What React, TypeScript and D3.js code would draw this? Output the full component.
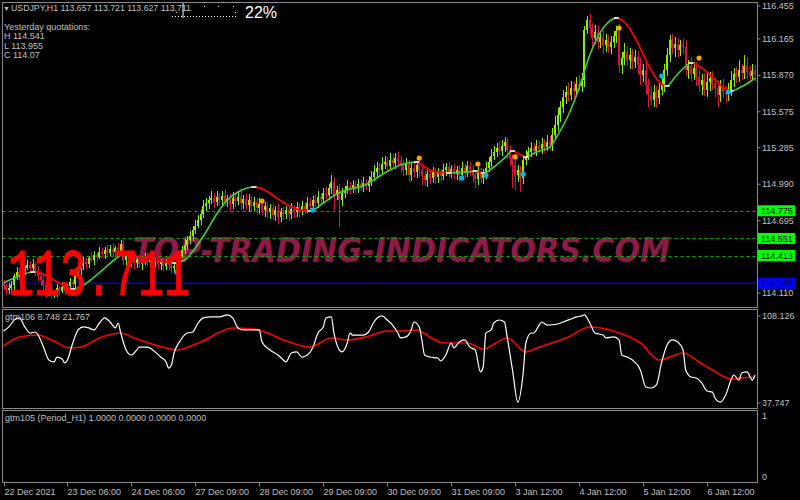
import React from "react";
import * as d3 from "d3";

// ---------------- DATA ----------------
const closePrices = [
  114.166,114.134,114.150,114.174,114.247,114.280,114.255,114.296,114.312,114.336,
  114.312,114.344,114.296,114.247,114.215,114.174,114.134,114.150,114.102,114.118,
  114.150,114.126,114.158,114.134,114.166,114.198,114.182,114.247,114.296,114.328,
  114.361,114.344,114.393,114.377,114.417,114.401,114.441,114.425,114.458,114.433,
  114.466,114.441,114.474,114.450,114.506,114.377,114.409,114.361,114.393,114.352,
  114.385,114.344,114.377,114.401,114.361,114.385,114.352,114.377,114.344,114.361,
  114.328,114.352,114.336,114.312,114.328,114.361,114.409,114.458,114.498,114.539,
  114.571,114.619,114.652,114.700,114.749,114.813,114.838,114.862,114.878,114.846,
  114.886,114.862,114.894,114.846,114.870,114.830,114.878,114.854,114.886,114.838,
  114.870,114.821,114.862,114.813,114.846,114.797,114.830,114.781,114.813,114.765,
  114.797,114.741,114.781,114.724,114.765,114.749,114.781,114.749,114.789,114.765,
  114.805,114.773,114.813,114.789,114.838,114.813,114.862,114.838,114.886,114.870,
  114.918,114.902,114.959,115.007,114.902,114.943,114.862,114.918,114.943,114.975,
  114.951,114.983,114.959,114.991,114.967,114.999,114.975,115.015,115.048,115.088,
  115.121,115.104,115.153,115.169,115.137,115.185,115.161,115.201,115.177,115.145,
  115.104,115.153,115.064,115.121,115.088,115.145,115.104,115.056,115.024,115.072,
  115.040,115.088,115.048,115.080,115.056,115.104,115.129,115.088,115.113,115.072,
  115.104,115.064,115.121,115.088,115.137,115.104,115.064,115.032,115.088,115.040,
  115.072,115.121,115.169,115.218,115.250,115.282,115.258,115.299,115.331,115.266,
  115.201,115.145,115.064,115.104,115.040,115.185,115.218,115.250,115.282,115.258,
  115.299,115.274,115.315,115.290,115.331,115.307,115.387,115.468,115.549,115.614,
  115.695,115.735,115.711,115.767,115.743,115.800,115.784,115.832,116.236,116.317,
  116.253,116.172,116.220,116.139,116.180,116.115,116.156,116.099,116.139,116.188,
  116.228,115.953,116.010,116.059,115.994,116.034,115.978,116.018,115.953,115.873,
  115.913,115.792,115.711,115.670,115.735,115.687,115.751,115.792,115.913,116.034,
  116.156,116.091,116.123,116.075,116.115,116.099,115.913,115.945,115.881,115.929,
  115.856,115.792,115.832,115.751,115.816,115.848,115.800,115.767,115.711,115.784,
  115.735,115.719,115.751,115.832,115.881,115.856,115.913,115.889,115.945,115.897,
  115.864,115.905,115.881,
];
const firstOpen = 114.182;

// upper / lower shadow length of each bar (price units)
const upperShadow = [
  .03,.02,.04,.03,.02,.04,.03,.05,.02,.04, .03,.04,.02,.03,.02,.03,.04,.02,.03,.02,
  .03,.02,.04,.03,.02,.03,.02,.04,.03,.02, .04,.03,.02,.05,.03,.02,.04,.03,.02,.04,
  .03,.05,.02,.04,.03,.02,.03,.04,.02,.03, .02,.03,.02,.03,.04,.02,.03,.02,.03,.02,
  .02,.03,.02,.03,.02,.03,.04,.03,.05,.03, .04,.03,.05,.04,.03,.05,.04,.03,.06,.04,
  .05,.03,.04,.06,.03,.04,.05,.03,.04,.05, .03,.04,.05,.03,.04,.03,.05,.04,.03,.04,
  .03,.04,.03,.05,.03,.04,.03,.04,.05,.03, .04,.03,.04,.03,.05,.04,.03,.04,.05,.03,
  .04,.05,.03,.06,.04,.03,.05,.04,.03,.05, .03,.04,.03,.04,.03,.05,.03,.04,.05,.06,
  .05,.04,.06,.05,.04,.06,.05,.04,.05,.04, .04,.05,.03,.04,.05,.03,.04,.03,.04,.03,
  .03,.04,.03,.04,.03,.05,.03,.04,.03,.04, .03,.04,.05,.03,.04,.03,.04,.03,.04,.03,
  .04,.05,.04,.06,.05,.04,.06,.05,.04,.03, .04,.03,.05,.04,.03,.04,.05,.04,.05,.04,
  .05,.04,.05,.04,.06,.05,.06,.07,.06,.05, .06,.05,.07,.06,.05,.06,.07,.06,.03,.03,
  .05,.04,.06,.05,.04,.06,.05,.04,.05,.04, .04,.06,.05,.07,.05,.06,.05,.06,.05,.06,
  .05,.06,.05,.07,.06,.05,.06,.07,.05,.06, .04,.05,.06,.05,.04,.05,.06,.05,.07,.05,
  .05,.06,.05,.06,.07,.05,.06,.05,.06,.05, .06,.05,.06,.07,.05,.06,.08,.05,.06,.07,
  .05,.06,.05,
];
const lowerShadow = [
  .03,.04,.03,.02,.04,.03,.05,.03,.04,.02, .04,.03,.05,.04,.05,.04,.03,.05,.04,.03,
  .04,.03,.02,.04,.03,.02,.04,.03,.02,.04, .03,.04,.03,.02,.04,.03,.02,.03,.04,.03,
  .02,.03,.04,.02,.03,.04,.05,.03,.04,.05, .04,.03,.05,.04,.03,.04,.05,.03,.04,.05,
  .04,.03,.05,.04,.03,.04,.03,.02,.03,.04, .03,.04,.03,.02,.04,.03,.04,.05,.03,.04,
  .03,.04,.05,.03,.04,.06,.04,.05,.03,.06, .05,.04,.06,.05,.04,.06,.05,.04,.06,.05,
  .06,.04,.05,.06,.04,.05,.04,.06,.04,.05, .04,.05,.03,.04,.03,.05,.04,.03,.04,.03,
  .04,.03,.04,.05,.03,.04,.02,.05,.04,.03, .04,.03,.05,.04,.03,.04,.03,.05,.04,.03,
  .04,.05,.03,.04,.05,.03,.04,.05,.04,.06, .05,.04,.06,.05,.04,.05,.06,.07,.05,.06,
  .05,.04,.06,.05,.04,.03,.05,.04,.05,.04, .05,.06,.04,.05,.04,.05,.06,.07,.05,.04,
  .05,.04,.03,.04,.03,.04,.03,.04,.05,.07, .06,.05,.04,.06,.03,.05,.04,.03,.04,.03,
  .04,.03,.04,.05,.03,.04,.05,.04,.05,.06, .05,.06,.05,.04,.06,.05,.04,.05,.06,.03,
  .06,.07,.05,.06,.05,.07,.06,.05,.06,.05, .06,.03,.07,.06,.05,.07,.06,.05,.07,.08,
  .06,.07,.05,.04,.06,.08,.05,.04,.06,.05, .06,.05,.07,.06,.05,.06,.05,.07,.06,.05,
  .07,.06,.08,.05,.06,.07,.05,.08,.04,.06, .05,.07,.06,.05,.06,.05,.04,.06,.05,.06,
  .05,.04,.06,
];

// [bar, high, low] for bars with long shadows
const spikes: [number, number | null, number | null][] = [
  [16, null, 114.070], [18, null, 114.078], [45, 114.539, null], [60, null, 114.296],
  [63, null, 114.290], [101, null, 114.700], [103, null, 114.676], [124, 115.040, 114.781],
  [126, null, 114.644], [152, null, 115.030], [157, null, 115.015], [176, null, 114.999],
  [179, null, 115.000], [188, 115.355, null], [191, null, 114.959], [192, null, 114.943],
  [194, null, 114.926], [219, 116.342, null], [230, 116.262, null], [231, null, 115.889],
  [242, null, 115.614], [243, null, 115.630], [250, 116.180, null], [256, null, 115.889],
  [261, null, 115.735], [263, null, 115.727], [268, null, 115.614], [278, 116.034, null],
];

// smoothed moving average [bar, price]
const maPoints: [number, number][] = [
  [0,114.191],[5,114.239],[11,114.280],[15,114.263],[19,114.215],[23,114.166],[26,114.142],
  [30,114.174],[34,114.239],[38,114.312],[42,114.385],[46,114.433],[50,114.409],[54,114.385],
  [58,114.369],[62,114.361],[64,114.352],[68,114.377],[72,114.474],[76,114.603],[80,114.749],
  [84,114.862],[88,114.927],[94,114.967],[98,114.943],[102,114.886],[106,114.830],[110,114.789],
  [115,114.773],[120,114.838],[125,114.910],[130,114.951],[135,114.975],[140,115.040],[145,115.104],
  [150,115.153],[155,115.169],[160,115.104],[167,115.080],[174,115.088],[177,115.096],[180,115.080],
  [184,115.129],[188,115.201],[191,115.258],[196,115.210],[200,115.250],[205,115.290],[208,115.387],
  [212,115.549],[216,115.767],[220,116.034],[224,116.220],[227,116.301],[230,116.333],[234,116.277],
  [238,116.131],[242,115.953],[246,115.816],[249,115.784],[252,115.856],[256,115.945],[258,115.970],
  [262,115.929],[266,115.856],[270,115.775],[273,115.743],[276,115.767],[280,115.816],[282,115.848],
];

const buyDots: [number, number][] = [
  [65,114.280],[116,114.781],[172,115.040],[181,115.064],[195,115.072],[247,115.864],[272,115.735],
];
const sellDots: [number, number][] = [
  [97,114.854],[156,115.201],[178,115.153],[192,115.210],[231,116.253],[261,116.010],
];

const levelLines = [114.775, 114.551, 114.413];
const bidLevel = 114.189;
const priceTicks = ["116.455","116.165","115.870","115.575","115.285","114.990","114.695","114.110"];
const dateLabels = [
  "22 Dec 2021","23 Dec 06:00","24 Dec 06:00","27 Dec 09:00","28 Dec 09:00","29 Dec 09:00",
  "30 Dec 09:00","31 Dec 09:00","3 Jan 12:00","4 Jan 12:00","5 Jan 12:00","6 Jan 12:00",
];
const dateStep = 24;

const oscWhite: [number, number][] = [
  [0,94.7],[2,97.9],[4,103.4],[6,105.0],[8,97.9],[10,93.1],[12,93.9],[13,91.5],[15,82.0],[17,71.8],
  [19,70.2],[20,74.1],[22,72.5],[23,69.4],[24,71.8],[26,85.2],[28,95.5],[30,97.9],[32,97.1],[34,95.5],
  [36,101.0],[38,105.0],[40,101.8],[42,97.1],[43,101.0],[44,93.1],[46,79.7],[48,75.7],[50,79.7],[51,82.0],
  [54,82.0],[56,79.7],[59,74.1],[61,70.2],[62,65.4],[63,67.8],[64,77.3],[66,86.0],[69,93.1],[71,93.9],
  [73,101.0],[75,105.0],[78,105.8],[81,105.8],[84,107.4],[86,105.0],[88,97.1],[90,95.5],[94,95.5],[96,95.5],
  [97,86.0],[100,79.7],[103,75.7],[105,71.8],[106,70.2],[108,77.3],[110,78.1],[112,74.1],[114,75.7],[116,81.3],
  [118,93.1],[120,97.9],[121,105.0],[123,105.8],[124,93.1],[126,79.7],[127,78.1],[129,85.2],[130,93.1],[131,91.5],
  [135,91.5],[137,93.9],[139,101.8],[142,106.6],[144,103.4],[146,99.4],[148,93.1],[149,89.2],[151,90.0],[153,95.5],
  [154,101.8],[156,97.9],[157,87.6],[158,75.7],[160,74.1],[163,73.3],[164,71.0],[166,75.7],[168,85.2],[169,81.3],
  [171,86.0],[173,87.6],[175,82.0],[177,79.7],[179,62.3],[180,66.2],[181,93.1],[183,95.5],[184,101.0],[186,103.4],
  [188,101.8],[189,90.0],[191,63.9],[193,38.5],[195,61.5],[196,85.2],[198,93.1],[199,93.1],[201,99.4],[202,101.8],
  [204,99.4],[208,100.2],[210,101.8],[213,104.2],[215,105.8],[217,106.6],[218,107.4],[220,101.0],[222,93.1],[225,91.5],
  [226,89.2],[229,90.0],[231,87.6],[232,75.7],[234,74.1],[236,71.8],[239,63.9],[241,50.4],[243,49.6],[245,52.0],
  [247,70.2],[249,83.6],[251,87.6],[253,86.0],[255,79.7],[256,63.9],[258,58.3],[260,57.5],[262,53.6],[264,47.2],
  [266,46.4],[267,41.7],[269,38.5],[271,44.1],[273,55.9],[274,59.9],[276,55.9],[277,61.5],[279,62.3],[281,55.9],
  [282,59.9],
];
const oscRed: [number, number][] = [
  [0,82.8],[6,90.0],[13,91.5],[18,87.6],[25,81.3],[29,82.0],[36,89.2],[44,93.1],[49,89.2],[61,81.3],
  [65,79.7],[74,86.0],[86,97.1],[94,96.3],[99,93.1],[105,87.6],[115,82.0],[123,89.2],[129,87.6],[136,90.0],
  [144,94.7],[149,94.7],[155,95.5],[160,90.0],[165,85.2],[174,85.2],[180,80.5],[189,89.2],[196,78.1],[201,82.0],
  [212,90.0],[220,97.9],[230,93.9],[239,85.2],[246,71.8],[255,77.3],[261,70.2],[266,63.9],[273,56.7],[277,57.5],
  [282,58.3],
];
const oscMax = 108.126;
const oscMin = 37.747;

const headerText = "USDJPY,H1  113.657 113.721 113.627 113.711";
const infoLines = ["Yesterday quotations:", "H 114.541", "L 113.955", "C 114.07"];
const bigPrice = "113.711";
const percentText = "22%";
const watermark = "TOP-TRADING-INDICATORS.COM";
const osc1Title = "gtm106 8.748 21.767";
const osc2Title = "gtm105 (Period_H1) 1.0000 0.0000 0.0000 0.0000";

// ---------------- STYLE ----------------
const FONT = "'Liberation Sans', Arial, sans-serif";
const TXT = "#c0c0c0";
const FRAME = "#8a8a8a";
const BULL = "#8cf000";
const BEAR = "#dc143c";

export default function App() {
  const W = 800, H = 500;
  const plotL = 2.5, plotR = 757.5;
  const mainT = 2.5, mainB = 307.5;
  const o1T = 309.5, o1B = 408.5;
  const o2T = 410.5, o2B = 482.5;

  const n = closePrices.length;
  const x = d3.scaleLinear().domain([0, n - 1]).range([3.5, 755]);
  const y = d3.scaleLinear().domain([114.110, 116.455]).range([293, 3]);
  const oy = d3.scaleLinear().domain([oscMin, oscMax]).range([403, 314]);

  const candles = closePrices.map((c, i) => {
    const o = i === 0 ? firstOpen : closePrices[i - 1];
    const s = spikes.find((k) => k[0] === i);
    const hi = Math.max(Math.max(o, c) + upperShadow[i], s && s[1] != null ? s[1] : -Infinity);
    const lo = Math.min(Math.min(o, c) - lowerShadow[i], s && s[2] != null ? s[2] : Infinity);
    return { i, o, c, hi, lo, up: c >= o };
  });

  const maLine = d3.line<[number, number]>().x((d) => x(d[0])).y((d) => y(d[1])).curve(d3.curveMonotoneX);
  const maPath = maLine(maPoints) || "";
  const segs = d3.pairs(maPoints).map(([a, b]) => ({ x0: x(a[0]), x1: x(b[0]), up: b[1] >= a[1] }));
  const turns: [number, number][] = [];
  for (let k = 1; k < segs.length; k++) if (segs[k].up !== segs[k - 1].up) turns.push(maPoints[k]);

  const oLine = d3.line<[number, number]>().x((d) => x(d[0])).y((d) => oy(d[1])).curve(d3.curveMonotoneX);

  const pTick = (s: string) => Math.max(6, y(parseFloat(s)));

  return (
    <svg width={W} height={H} style={{ position: "fixed", left: 0, top: 0, display: "block", background: "#000" }}>
      <rect x={0} y={0} width={W} height={H} fill="#000" />
      <defs>
        <clipPath id="mainClip"><rect x={plotL} y={mainT} width={plotR - plotL} height={mainB - mainT} /></clipPath>
        <clipPath id="o1Clip"><rect x={plotL} y={o1T} width={plotR - plotL} height={o1B - o1T} /></clipPath>
        <clipPath id="maUp">
          {segs.filter((s) => s.up).map((s, k) => <rect key={k} x={s.x0 - 0.3} y={0} width={s.x1 - s.x0 + 0.6} height={320} />)}
        </clipPath>
        <clipPath id="maDn">
          {segs.filter((s) => !s.up).map((s, k) => <rect key={k} x={s.x0 - 0.3} y={0} width={s.x1 - s.x0 + 0.6} height={320} />)}
        </clipPath>
      </defs>

      {/* main panel */}
      <g clipPath="url(#mainClip)">
        <text x={133} y={262} fontFamily="'DejaVu Sans', sans-serif" fontWeight="bold" fontStyle="italic"
          fontSize={34} fill="#8e1a48" textLength={537} lengthAdjust="spacingAndGlyphs">{watermark}</text>

        {levelLines.map((v) => (
          <line key={v} x1={plotL} x2={plotR} y1={Math.round(y(v)) + 0.5} y2={Math.round(y(v)) + 0.5}
            stroke="#00b400" strokeWidth={1} strokeDasharray="3,3" />
        ))}
        <line x1={plotL} x2={plotR} y1={y(bidLevel)} y2={y(bidLevel)} stroke="#0000c8" strokeWidth={1.6} />

        <g shapeRendering="crispEdges">
          {candles.map((d) => {
            const cx = Math.round(x(d.i)) - 1;
            const col = d.up ? BULL : BEAR;
            const top = y(Math.max(d.o, d.c));
            const bot = y(Math.min(d.o, d.c));
            return (
              <g key={d.i}>
                <rect x={cx + 1} y={y(d.hi)} width={1} height={Math.max(1, y(d.lo) - y(d.hi))} fill={col} />
                <rect x={cx} y={top} width={2} height={Math.max(1, bot - top)} fill={col} />
              </g>
            );
          })}
        </g>

        <path d={maPath} fill="none" stroke="#3dd13d" strokeWidth={1.6} clipPath="url(#maUp)" />
        <path d={maPath} fill="none" stroke="#ff0000" strokeWidth={1.8} clipPath="url(#maDn)" />
        {turns.map((p, k) => (
          <line key={k} x1={x(p[0]) - 2.5} x2={x(p[0]) + 2.5} y1={y(p[1])} y2={y(p[1])} stroke="#ffffff" strokeWidth={1.5} />
        ))}

        {buyDots.map((p, k) => <circle key={"b" + k} cx={x(p[0])} cy={y(p[1])} r={2.6} fill="#00b4f0" />)}
        {sellDots.map((p, k) => <circle key={"s" + k} cx={x(p[0])} cy={y(p[1])} r={2.6} fill="#ffa500" />)}

        <text x={8} y={295} fontFamily="'Liberation Mono', 'Courier New', monospace" fontSize={66} fill="#ff0000"
          stroke="#ff0000" strokeWidth={1.2} textLength={182} lengthAdjust="spacingAndGlyphs">{bigPrice}</text>
      </g>

      {/* header */}
      <text x={3} y={11} fontFamily={FONT} fontSize={7} fill={TXT}>▼</text>
      <text x={11} y={11} fontFamily={FONT} fontSize={9} fill={TXT} textLength={180} lengthAdjust="spacingAndGlyphs">{headerText}</text>
      {infoLines.map((s, k) => (
        <text key={s} x={4} y={30 + k * 9.3} fontFamily={FONT} fontSize={9} fill={TXT}>{s}</text>
      ))}
      <line x1={183} x2={183} y1={2} y2={18} stroke="#fff" strokeWidth={1} />
      {d3.range(172, 238, 3).map((px) => <rect key={px} x={px} y={16} width={1} height={1} fill="#fff" />)}
      {[[204, 6], [218, 6], [233, 6], [235, 12], [176, 12]].map(([px, py]) => (
        <rect key={px + "-" + py} x={px} y={py} width={1} height={1} fill="#fff" />
      ))}
      <text x={245} y={18} fontFamily={FONT} fontSize={16} fill="#fff">{percentText}</text>

      {/* oscillator panel */}
      <g clipPath="url(#o1Clip)">
        <path d={oLine(oscRed) || ""} fill="none" stroke="#ff0000" strokeWidth={1.6} />
        <path d={oLine(oscWhite) || ""} fill="none" stroke="#ffffff" strokeWidth={1.2} />
      </g>
      <text x={5} y={320} fontFamily={FONT} fontSize={9} fill={TXT}>{osc1Title}</text>
      <text x={5} y={421} fontFamily={FONT} fontSize={9} fill={TXT}>{osc2Title}</text>

      {/* frames */}
      <rect x={plotL} y={mainT} width={plotR - plotL} height={mainB - mainT} fill="none" stroke={FRAME} />
      <rect x={plotL} y={o1T} width={plotR - plotL} height={o1B - o1T} fill="none" stroke={FRAME} />
      <rect x={plotL} y={o2T} width={plotR - plotL} height={o2B - o2T} fill="none" stroke={FRAME} />

      {/* price axis */}
      {priceTicks.map((s) => (
        <g key={s}>
          <line x1={plotR} x2={plotR + 3} y1={pTick(s)} y2={pTick(s)} stroke={FRAME} />
          <text x={762} y={pTick(s)} dy="0.35em" fontFamily={FONT} fontSize={9} fill={TXT}>{s}</text>
        </g>
      ))}
      {levelLines.map((v) => (
        <g key={v}>
          <rect x={758} y={y(v) - 5.5} width={37} height={11} fill="#00ff00" />
          <text x={761} y={y(v)} dy="0.36em" fontFamily={FONT} fontSize={9} fill="#000">{v.toFixed(3)}</text>
        </g>
      ))}
      <rect x={758} y={y(bidLevel) - 5.5} width={37} height={11} fill="#0000ff" />
      <text x={761} y={y(bidLevel)} dy="0.36em" fontFamily={FONT} fontSize={9} fill="#000040">{bidLevel.toFixed(3)}</text>

      {/* oscillator axis */}
      {[oscMax, oscMin].map((v) => (
        <g key={v}>
          <line x1={plotR} x2={plotR + 3} y1={oy(v) + (v === oscMax ? 2 : 0)} y2={oy(v) + (v === oscMax ? 2 : 0)} stroke={FRAME} />
          <text x={762} y={oy(v) + (v === oscMax ? 2 : 0)} dy="0.35em" fontFamily={FONT} fontSize={9} fill={TXT}>{v.toFixed(3)}</text>
        </g>
      ))}
      <text x={762} y={416} dy="0.35em" fontFamily={FONT} fontSize={9} fill={TXT}>1</text>
      <text x={762} y={477} dy="0.35em" fontFamily={FONT} fontSize={9} fill={TXT}>0</text>

      {/* time axis */}
      {dateLabels.map((s, k) => {
        const px = Math.round(x(k * dateStep)) + 0.5;
        return (
          <g key={s}>
            <line x1={px} x2={px} y1={o2B} y2={o2B + 4} stroke={FRAME} />
            <text x={px} y={495} fontFamily={FONT} fontSize={9} fill={TXT}>{s}</text>
          </g>
        );
      })}
    </svg>
  );
}
